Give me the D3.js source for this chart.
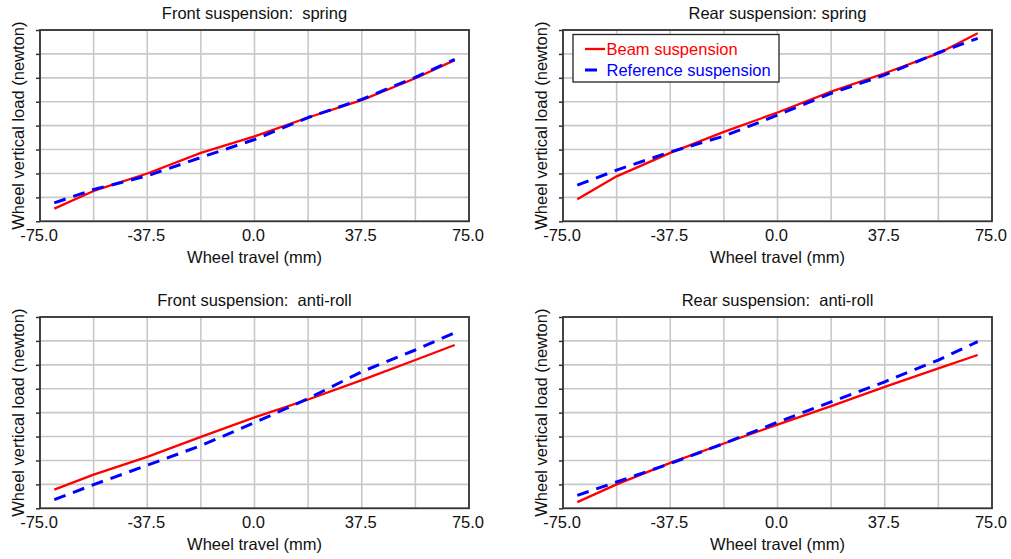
<!DOCTYPE html>
<html>
<head>
<meta charset="utf-8">
<script src="https://cdn.jsdelivr.net/npm/d3@7"></script>
<style>
  html, body { margin: 0; padding: 0; background: #ffffff; }
  svg { display: block; }
  text { font-family: "Liberation Sans", Arial, sans-serif; }
</style>
</head>
<body>
<svg id="chart" width="1011" height="559"></svg>
<script>
// ---------- data (wheel travel in mm, load in grid units of the unlabeled y axis) ----------
const travel = [-70, -56.25, -37.5, -18.75, 0, 18.75, 37.5, 56.25, 70];

const frontSpringBeam = [0.53, 1.27, 2.00, 2.86, 3.55, 4.34, 5.07, 5.98, 6.74];
const frontSpringRef  = [0.77, 1.33, 1.90, 2.67, 3.42, 4.34, 5.10, 6.02, 6.77];

const rearSpringBeam  = [0.92, 1.88, 2.86, 3.74, 4.55, 5.42, 6.19, 7.02, 7.86];
const rearSpringRef   = [1.51, 2.14, 2.90, 3.56, 4.44, 5.35, 6.12, 7.05, 7.65];

const frontRollBeam   = [0.78, 1.41, 2.15, 2.99, 3.80, 4.55, 5.36, 6.20, 6.83];
const frontRollRef    = [0.36, 0.99, 1.80, 2.62, 3.58, 4.59, 5.71, 6.62, 7.34];

const rearRollBeam    = [0.26, 1.00, 1.90, 2.71, 3.50, 4.27, 5.08, 5.85, 6.41];
const rearRollRef     = [0.54, 1.10, 1.87, 2.71, 3.60, 4.45, 5.29, 6.20, 6.97];

const panelTitles = ["Front suspension:  spring", "Rear suspension: spring",
                     "Front suspension:  anti-roll", "Rear suspension:  anti-roll"];
const seriesNames = ["Beam suspension", "Reference suspension"];
const xTickValues = [-75, -37.5, 0, 37.5, 75];
const xGridValues = [-75, -56.25, -37.5, -18.75, 0, 18.75, 37.5, 56.25, 75];
const yGridValues = [0, 1, 2, 3, 4, 5, 6, 7, 8];
const xTitle = "Wheel travel (mm)";
const yTitle = "Wheel vertical load (newton)";

const panelData = [
  [frontSpringBeam, frontSpringRef],
  [rearSpringBeam, rearSpringRef],
  [frontRollBeam, frontRollRef],
  [rearRollBeam, rearRollRef]
];

// ---------- layout ----------
const colLeft = [40, 563];
const rowTop = [30, 317];
const plotW = 429, plotH = 191.3;
const colors = ["#ff0000", "#0000ff"];
const widths = [2.3, 3];
const dashes = [null, "12,8"];
const fontSize = "16.5px";

const svg = d3.select("#chart");

panelData.forEach((series, i) => {
  const left = colLeft[i % 2], top = rowTop[Math.floor(i / 2)];
  const g = svg.append("g").attr("transform", `translate(${left},${top})`);

  const x = d3.scaleLinear().domain([-75, 75]).range([0, plotW]);
  const y = d3.scaleLinear().domain([0, 8]).range([plotH, 0]);

  // grid
  g.append("g").selectAll("line.vg").data(xGridValues).join("line")
    .attr("x1", d => x(d)).attr("x2", d => x(d)).attr("y1", 0).attr("y2", plotH)
    .attr("stroke", "#c8c8c8").attr("stroke-width", 1.6);
  g.append("g").selectAll("line.hg").data(yGridValues).join("line")
    .attr("x1", 0).attr("x2", plotW).attr("y1", d => y(d)).attr("y2", d => y(d))
    .attr("stroke", "#c8c8c8").attr("stroke-width", 1.6);

  // y ticks (no labels)
  const yAxis = d3.axisLeft(y).tickValues(yGridValues).tickSize(4).tickFormat("");
  const ya = g.append("g").call(yAxis);
  ya.select(".domain").remove();
  ya.selectAll("line").attr("stroke", "#333").attr("stroke-width", 1.5);

  // x tick labels
  const xAxis = d3.axisBottom(x).tickValues(xTickValues).tickSize(0).tickPadding(0)
    .tickFormat(d => d.toFixed(1));
  const xa = g.append("g").attr("transform", `translate(0,${plotH})`).call(xAxis);
  xa.select(".domain").remove();
  xa.selectAll("text")
    .attr("dy", null).attr("y", 20).attr("x", -1.5)
    .style("font-size", fontSize).style("font-family", '"Liberation Sans", Arial, sans-serif')
    .attr("fill", "#111");

  // series
  const line = d3.line().x((d, k) => x(travel[k])).y(d => y(d));
  series.forEach((vals, s) => {
    g.append("path").datum(vals)
      .attr("d", line)
      .attr("fill", "none")
      .attr("stroke", colors[s])
      .attr("stroke-width", widths[s])
      .attr("stroke-dasharray", dashes[s])
      .attr("stroke-linejoin", "round");
  });

  // frame
  g.append("rect").attr("x", 0).attr("y", 0).attr("width", plotW).attr("height", plotH)
    .attr("fill", "none").attr("stroke", "#333").attr("stroke-width", 1.8);

  // title
  g.append("text").attr("x", plotW / 2).attr("y", -11.5)
    .attr("text-anchor", "middle").style("white-space", "pre")
    .style("font-size", fontSize).attr("fill", "#111")
    .text(panelTitles[i]);

  // x axis title
  g.append("text").attr("x", plotW / 2).attr("y", plotH + 42)
    .attr("text-anchor", "middle").style("font-size", fontSize).attr("fill", "#111")
    .text(xTitle);

  // y axis title
  g.append("text")
    .attr("transform", `translate(-16,${plotH / 2}) rotate(-90)`)
    .attr("text-anchor", "middle").style("font-size", fontSize).attr("fill", "#111")
    .text(yTitle);

  // legend in rear spring panel
  if (i === 1) {
    const lg = g.append("g").attr("transform", "translate(10,4.5)");
    lg.append("rect").attr("x", 0).attr("y", 0).attr("width", 206).attr("height", 47.5)
      .attr("fill", "#fff").attr("stroke", "#222").attr("stroke-width", 1.3);
    seriesNames.forEach((name, s) => {
      const yy = 14.5 + s * 21;
      lg.append("line").attr("x1", 12).attr("x2", 32).attr("y1", yy).attr("y2", yy)
        .attr("stroke", colors[s]).attr("stroke-width", widths[s])
        .attr("stroke-dasharray", dashes[s]);
      lg.append("text").attr("x", 33.5).attr("y", yy + 5.5)
        .style("font-size", fontSize).attr("fill", colors[s]).text(name);
    });
  }
});
</script>
</body>
</html>
